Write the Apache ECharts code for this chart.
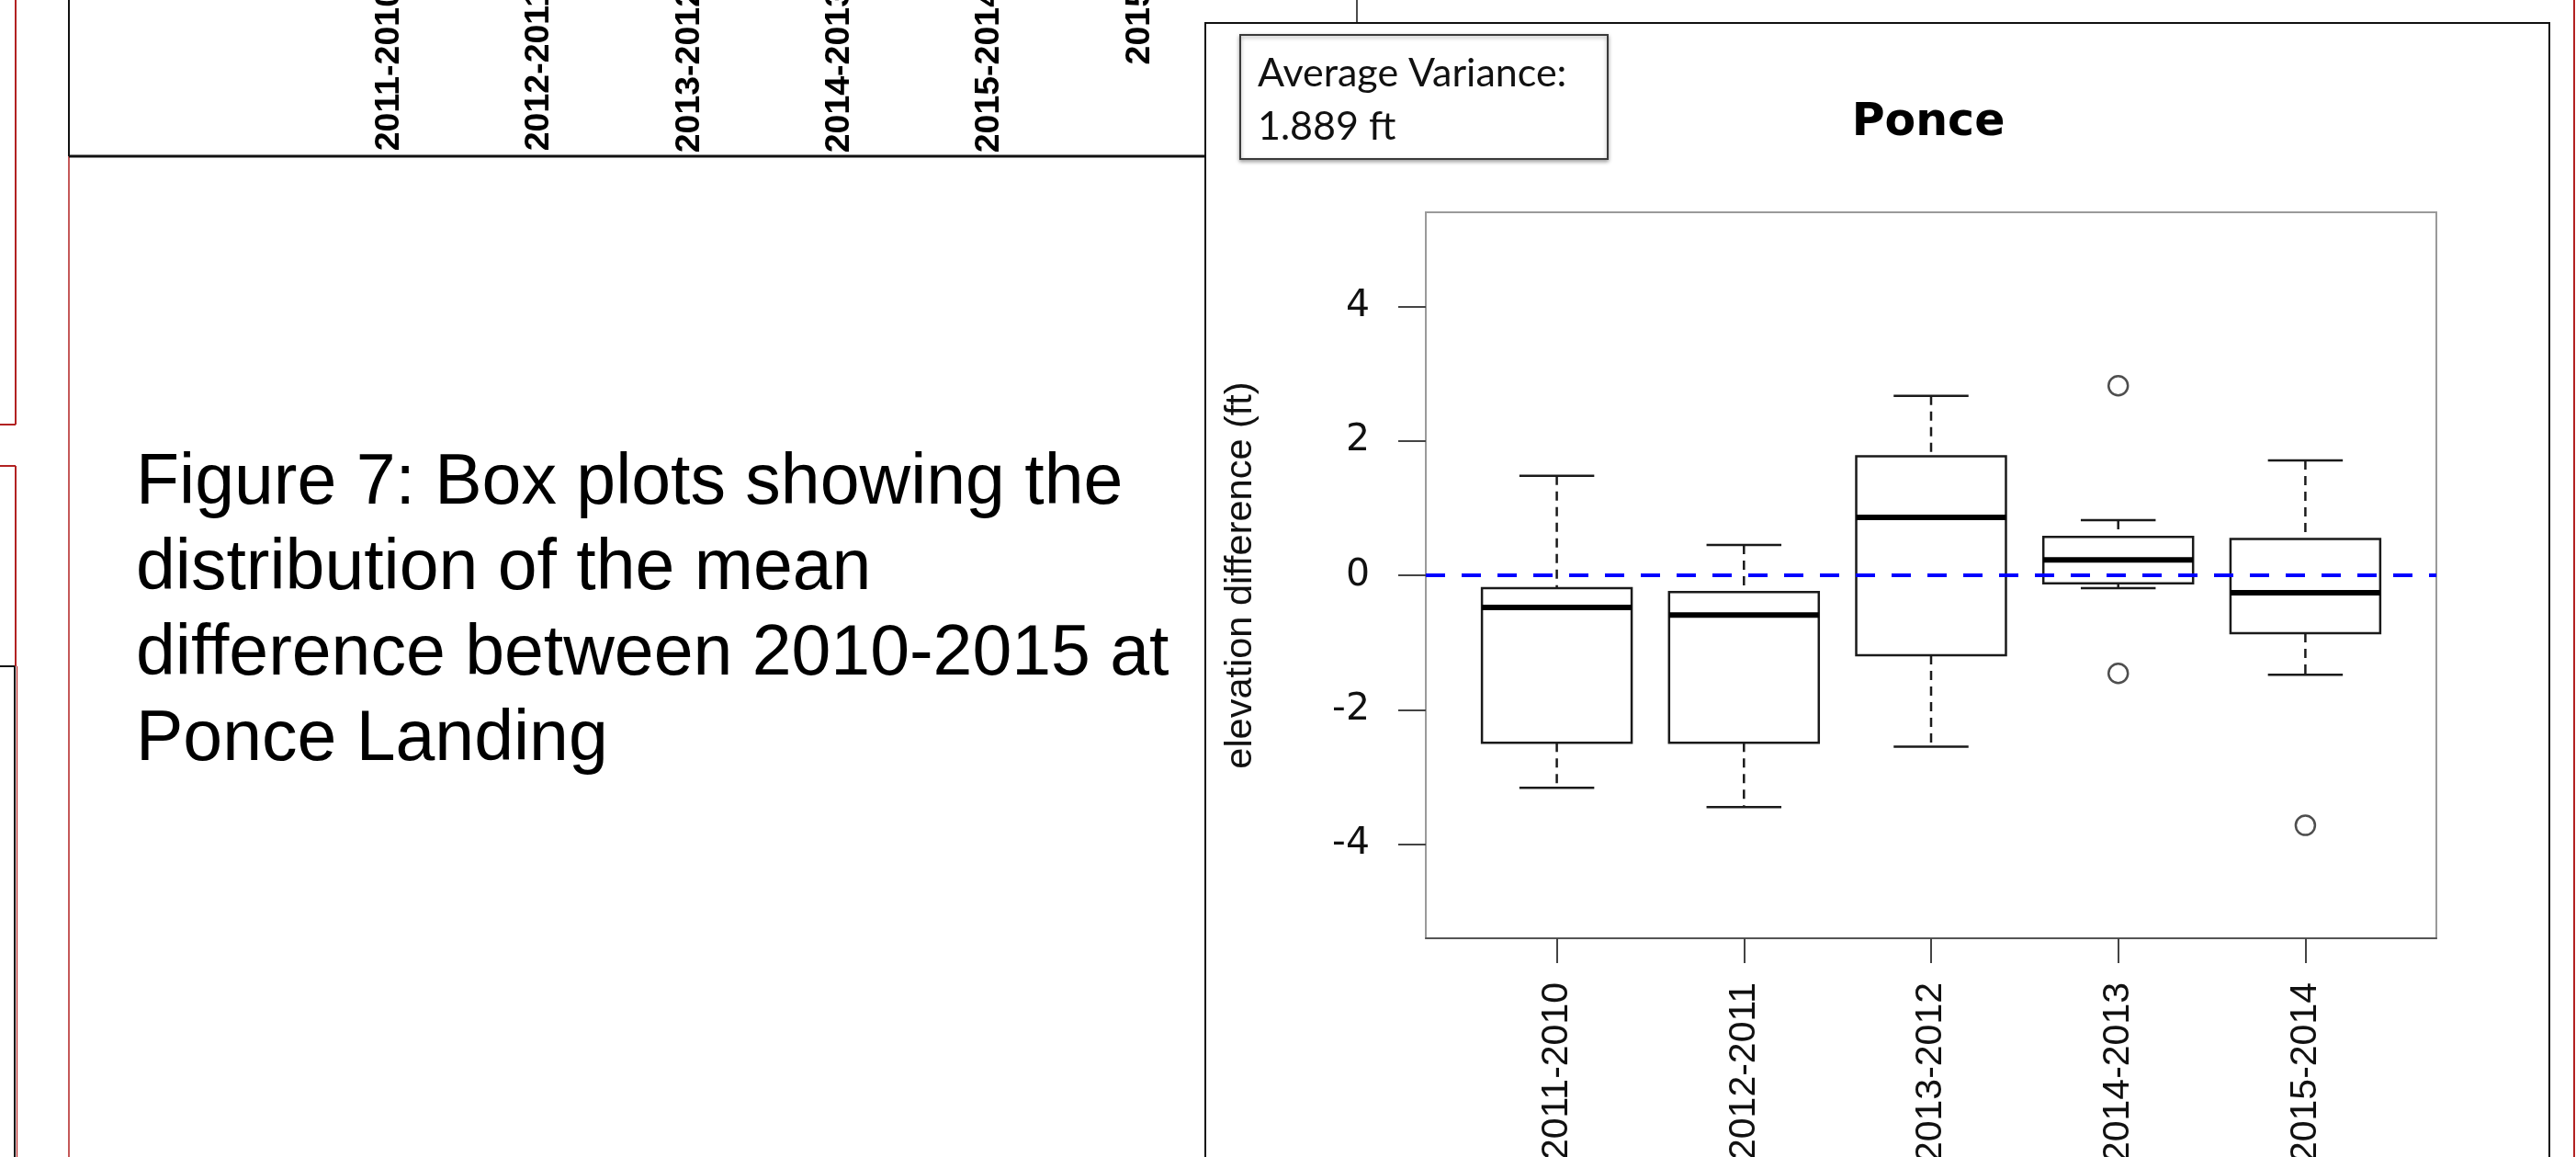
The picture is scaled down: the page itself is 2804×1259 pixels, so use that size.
<!DOCTYPE html>
<html>
<head>
<meta charset="utf-8">
<script src="https://cdn.jsdelivr.net/npm/echarts@6/dist/echarts.min.js"></script>
<style>
html,body{margin:0;padding:0;background:#fff;}
#chart{width:2804px;height:1259px;}
</style>
</head>
<body>
<div id="chart"></div>
<script>
// ---- data ----
const categories = ['2011-2010', '2012-2011', '2013-2012', '2014-2013', '2015-2014'];
const whiskerLow = [-3.16, -3.45, -2.55, -0.19, -1.48];
const q1 = [-2.49, -2.49, -1.19, -0.12, -0.86];
const median = [-0.48, -0.59, 0.86, 0.23, -0.26];
const q3 = [-0.19, -0.25, 1.77, 0.57, 0.54];
const whiskerHigh = [1.48, 0.45, 2.67, 0.82, 1.71];
const outlierPosition = [4, 4, 5];
const outlierValue = [2.82, -1.46, -3.72];
const xTicks = [1, 2, 3, 4, 5];
const yTicks = [-4, -2, 0, 2, 4];
const referenceLevel = 0;
const upperCategories = ['2011-2010', '2012-2011', '2013-2012', '2014-2013', '2015-2014', '2015'];
const plotTitle = 'Ponce';
const yAxisName = 'elevation difference (ft)';
const varianceLines = ['Average Variance:', '1.889 ft'];
const captionLines = ['Figure 7: Box plots showing the', 'distribution of the mean', 'difference between 2010-2015 at', 'Ponce Landing'];

// ---- build library inputs ----
const boxData = categories.map((c, i) => [i + 1, whiskerLow[i], q1[i], median[i], q3[i], whiskerHigh[i]]);
const outlierData = outlierPosition.map((p, i) => [p, outlierValue[i]]);

const chart = echarts.init(document.getElementById('chart'));

function renderBox(params, api) {
  const x = api.value(0);
  const lo = api.coord([x, api.value(1)]);
  const b1 = api.coord([x, api.value(2)]);
  const md = api.coord([x, api.value(3)]);
  const b3 = api.coord([x, api.value(4)]);
  const hi = api.coord([x, api.value(5)]);
  const half = api.size([0.4, 0])[0];
  const cap = api.size([0.2, 0])[0];
  const cx = lo[0];
  const stroke = '#1a1a1a';
  const dash = { stroke: stroke, lineWidth: 2.5, lineDash: [10, 7] };
  const solid = { stroke: stroke, lineWidth: 2.5 };
  return {
    type: 'group',
    children: [
      { type: 'line', shape: { x1: cx, y1: hi[1], x2: cx, y2: b3[1] }, style: dash },
      { type: 'line', shape: { x1: cx, y1: b1[1], x2: cx, y2: lo[1] }, style: dash },
      { type: 'line', shape: { x1: cx - cap, y1: hi[1], x2: cx + cap, y2: hi[1] }, style: solid },
      { type: 'line', shape: { x1: cx - cap, y1: lo[1], x2: cx + cap, y2: lo[1] }, style: solid },
      { type: 'rect', shape: { x: cx - half, y: b3[1], width: 2 * half, height: b1[1] - b3[1] }, style: { fill: 'none', stroke: stroke, lineWidth: 2.5 } },
      { type: 'line', shape: { x1: cx - half, y1: md[1], x2: cx + half, y2: md[1] }, style: { stroke: '#000', lineWidth: 6 } }
    ]
  };
}

const red = '#b22222';
const option = {
  animation: false,
  backgroundColor: '#ffffff',
  title: {
    text: plotTitle,
    left: 2099,
    top: 110,
    padding: 0,
    textAlign: 'center',
    textStyle: { fontFamily: 'DejaVu Sans', fontWeight: 'bold', fontSize: 49, color: '#000' }
  },
  grid: [
    { left: 1552, top: 231, width: 1100, height: 790, show: true, borderColor: '#9a9a9a', borderWidth: 2, backgroundColor: 'transparent', outerBoundsMode: 'none', containLabel: false },
    { left: 342, top: -300, width: 980, height: 260, show: false, outerBoundsMode: 'none', containLabel: false }
  ],
  xAxis: [
    {
      type: 'value', gridIndex: 0, min: 0.3, max: 5.7,
      splitLine: { show: false },
      axisLine: { show: true, onZero: false, lineStyle: { color: '#555', width: 2 } },
      axisTick: { show: true, length: 27, customValues: xTicks, lineStyle: { color: '#444', width: 2 } },
      axisLabel: {
        customValues: xTicks, rotate: 90, margin: 48,
        formatter: v => categories[Math.round(v) - 1],
        fontFamily: 'Liberation Sans', fontSize: 41, color: '#111'
      }
    },
    {
      type: 'category', gridIndex: 1, data: upperCategories,
      axisLine: { show: false }, axisTick: { show: false },
      axisLabel: { rotate: 90, margin: 27, interval: 0, fontFamily: 'Liberation Sans', fontWeight: 'bold', fontSize: 37.5, color: '#000' }
    }
  ],
  yAxis: [
    {
      type: 'value', gridIndex: 0, min: -5.4, max: 5.4,
      splitLine: { show: false },
      axisLine: { show: false },
      axisTick: { show: true, length: 30, customValues: yTicks, lineStyle: { color: '#444', width: 2 } },
      axisLabel: { customValues: yTicks, margin: 61, fontFamily: 'DejaVu Sans', fontSize: 41, color: '#111' },
      name: yAxisName, nameLocation: 'middle', nameRotate: 90, nameGap: 180,
      nameTextStyle: { fontFamily: 'Liberation Sans', fontSize: 41.5, color: '#111' }
    },
    { type: 'value', gridIndex: 1, show: false }
  ],
  series: [
    {
      type: 'custom', xAxisIndex: 0, yAxisIndex: 0, z: 2,
      renderItem: renderBox,
      encode: { x: 0, y: [1, 2, 3, 4, 5] },
      data: boxData
    },
    {
      type: 'scatter', xAxisIndex: 0, yAxisIndex: 0, z: 3,
      symbol: 'circle', symbolSize: 21,
      itemStyle: { color: '#fff', borderColor: '#222', borderWidth: 2.5 },
      data: outlierData,
      markLine: {
        silent: true, symbol: ['none', 'none'],
        label: { show: false },
        lineStyle: { color: '#0000ff', type: [21, 18], width: 4 },
        data: [{ yAxis: referenceLevel }]
      }
    }
  ],
  graphic: [
    { type: 'line', z: 1, shape: { x1: 17, y1: 0, x2: 17, y2: 462 }, style: { stroke: red, lineWidth: 2 } },
    { type: 'line', z: 1, shape: { x1: 0, y1: 462, x2: 17, y2: 462 }, style: { stroke: red, lineWidth: 2 } },
    { type: 'line', z: 1, shape: { x1: 17, y1: 507, x2: 17, y2: 725 }, style: { stroke: red, lineWidth: 2 } },
    { type: 'line', z: 1, shape: { x1: 0, y1: 507, x2: 17, y2: 507 }, style: { stroke: red, lineWidth: 2 } },
    { type: 'line', z: 1, shape: { x1: 16, y1: 725, x2: 16, y2: 1259 }, style: { stroke: '#111', lineWidth: 2 } },
    { type: 'line', z: 1, shape: { x1: 0, y1: 725, x2: 16, y2: 725 }, style: { stroke: '#111', lineWidth: 2 } },
    { type: 'line', z: 1, shape: { x1: 18.5, y1: 725, x2: 18.5, y2: 1259 }, style: { stroke: red, lineWidth: 1.2 } },
    { type: 'line', z: 1, shape: { x1: 75, y1: 0, x2: 75, y2: 170 }, style: { stroke: '#111', lineWidth: 2 } },
    { type: 'line', z: 1, shape: { x1: 75, y1: 170, x2: 75, y2: 1259 }, style: { stroke: red, lineWidth: 1.5 } },
    { type: 'line', z: 1, shape: { x1: 75, y1: 170, x2: 1312, y2: 170 }, style: { stroke: '#111', lineWidth: 3 } },
    { type: 'line', z: 1, shape: { x1: 1477, y1: 0, x2: 1477, y2: 25 }, style: { stroke: '#111', lineWidth: 1.5 } },
    { type: 'rect', z: 1, shape: { x: 1312, y: 25, width: 1463, height: 1300 }, style: { fill: 'none', stroke: '#111', lineWidth: 2 } },
    { type: 'line', z: 1, shape: { x1: 2802, y1: 0, x2: 2802, y2: 1259 }, style: { stroke: red, lineWidth: 2 } },
    {
      type: 'text', z: 5, x: 148, y: 480,
      style: { text: captionLines.join('\n'), font: '77px "Liberation Sans", Arial, sans-serif', lineHeight: 93, fill: '#000', align: 'left', verticalAlign: 'top' }
    },
    {
      type: 'rect', z: 5, shape: { x: 1350, y: 38, width: 400, height: 135 },
      style: { fill: '#fff', stroke: '#3a3a3a', lineWidth: 2, shadowBlur: 4, shadowOffsetY: 2, shadowColor: 'rgba(0,0,0,0.35)' }
    },
    {
      type: 'text', z: 6, x: 1369, y: 80,
      style: { text: varianceLines[0], font: '43px Lato, "Open Sans", sans-serif', fill: '#111', align: 'left', verticalAlign: 'middle' }
    },
    {
      type: 'text', z: 6, x: 1369, y: 138,
      style: { text: varianceLines[1], font: '43px Lato, "Open Sans", sans-serif', fill: '#111', align: 'left', verticalAlign: 'middle' }
    }
  ]
};
chart.setOption(option);
</script>
</body>
</html>
